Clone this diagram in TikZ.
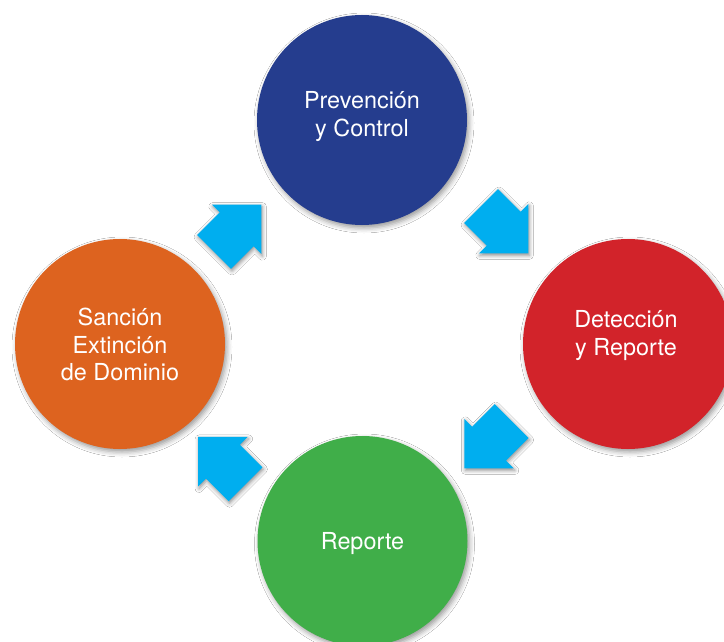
\documentclass[tikz,border=0pt]{standalone}
\usepackage{fontspec}
\setmainfont{TeX Gyre Heros}
\usetikzlibrary{shadows.blur}
\definecolor{cblue}{HTML}{253D8E}
\definecolor{cred}{HTML}{D2232A}
\definecolor{cgreen}{HTML}{40AE49}
\definecolor{corange}{HTML}{DD631F}
\definecolor{ccyan}{HTML}{00AEEF}
\tikzset{
  stage/.style={circle, minimum size=210pt, inner sep=0pt,
    blur shadow={shadow xshift=2pt, shadow yshift=-3pt, shadow blur radius=5pt, shadow opacity=40}},
  lbl/.style={text=white, font=\fontsize{23.4}{27.5}\selectfont, align=center, anchor=base, inner sep=0pt},
  flowarrow/.pic={
    \fill[ccyan, blur shadow={shadow xshift=1pt, shadow yshift=-2pt, shadow blur radius=4pt, shadow opacity=45}]
      (0,-24) -- (32,-24) -- (32,-35) -- (67,0) -- (32,35) -- (32,24) -- (0,24) -- cycle;
  }
}
\begin{document}
\begin{tikzpicture}[x=1pt,y=-1pt]
\clip (0,0) rectangle (724,642);
\fill[white] (0,0) rectangle (724,642);
% stages
\node[stage, fill=cblue]   (prev) at (362,120) {};
\node[stage, fill=cred]    (det)  at (628,344) {};
\node[stage, fill=cgreen]  (rep)  at (362.5,541) {};
\node[stage, fill=corange] (san)  at (120,344) {};
% labels (base anchor = baseline of the last line)
\node[lbl] (prevtxt) at (362,136)     {Prevención\\y Control};
\node[lbl] (dettxt)  at (626,355)     {Detección\\y Reporte};
\node[lbl] (reptxt)  at (362.5,549.3) {Reporte};
\node[lbl] (santxt)  at (120,380.7)   {Sanción\\Extinción\\de Dominio};
% arrows
\pic at (214,252)     [rotate=45]   {flowarrow};
\pic at (481,206)     [rotate=-45]  {flowarrow};
\pic at (511.7,421)   [rotate=-135] {flowarrow};
\pic at (245.5,484.3) [rotate=135]  {flowarrow};
\end{tikzpicture}
\end{document}
